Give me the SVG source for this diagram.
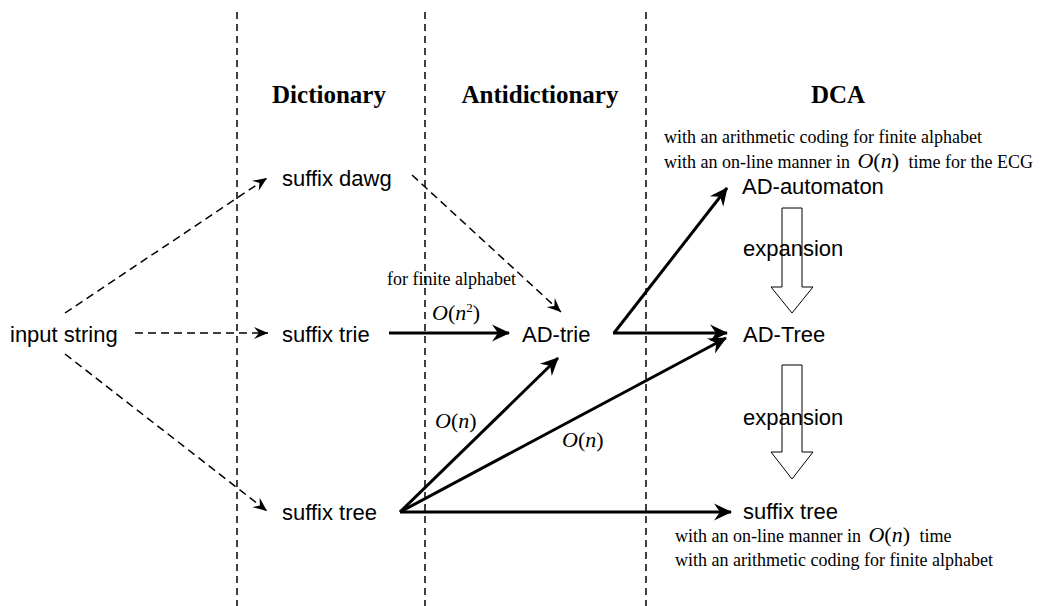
<svg xmlns="http://www.w3.org/2000/svg" width="1043" height="606" viewBox="0 0 1043 606">
<defs>
<style>
.sans{font-family:"Liberation Sans",Arial,sans-serif;font-size:22px;fill:#000}
.serif{font-family:"Liberation Serif","Times New Roman",serif;font-size:18px;fill:#000}
.head{font-family:"Liberation Serif","Times New Roman",serif;font-size:25px;font-weight:bold;fill:#000}
.big{font-size:22px}
.it{font-style:italic}
.sep{stroke:#000;stroke-width:1.5;stroke-dasharray:7,5;fill:none}
.dash{stroke:#000;stroke-width:1.5;stroke-dasharray:8,5;fill:none}
.solid{stroke:#000;stroke-width:3;fill:none}
.exp{stroke:#000;stroke-width:1;fill:none}
</style>
<marker id="ah" markerUnits="userSpaceOnUse" viewBox="-19 -9 21 18" refX="-1" refY="0" markerWidth="21" markerHeight="18" orient="auto">
<path d="M0,0 L-18,-8.5 L-12,0 L-18,8.5 Z" fill="#000"/>
</marker>
<marker id="dh" markerUnits="userSpaceOnUse" viewBox="-15 -7 16 14" refX="0" refY="0" markerWidth="16" markerHeight="14" orient="auto">
<path d="M0,0 L-14,-6 L-9,0 L-14,6 Z" fill="#000"/>
</marker>
</defs>
<rect width="1043" height="606" fill="#fff"/>
<g id="separators">
<line class="sep" x1="237" y1="12" x2="237" y2="606"/>
<line class="sep" x1="425" y1="12" x2="425" y2="606"/>
<line class="sep" x1="646" y1="12" x2="646" y2="606"/>
</g>
<g id="headers">
<text class="head" x="329" y="103" text-anchor="middle">Dictionary</text>
<text class="head" x="540" y="103" text-anchor="middle">Antidictionary</text>
<text class="head" x="838" y="103" text-anchor="middle">DCA</text>
</g>
<g id="connectors">
<line class="dash" x1="65" y1="313" x2="267" y2="178" marker-end="url(#dh)"/>
<line class="dash" x1="135" y1="333" x2="268" y2="333" marker-end="url(#dh)"/>
<line class="dash" x1="65" y1="354" x2="267" y2="511" marker-end="url(#dh)"/>
<line class="dash" x1="412" y1="175" x2="561" y2="312" marker-end="url(#dh)"/>
<line class="solid" x1="389" y1="333" x2="509" y2="333" marker-end="url(#ah)"/>
<line class="solid" x1="614" y1="333" x2="727" y2="188" marker-end="url(#ah)"/>
<line class="solid" x1="613" y1="333" x2="727" y2="333" marker-end="url(#ah)"/>
<line class="solid" x1="400" y1="512" x2="558" y2="358" marker-end="url(#ah)"/>
<line class="solid" x1="400" y1="512" x2="726" y2="338" marker-end="url(#ah)"/>
<line class="solid" x1="400" y1="512" x2="731" y2="512" marker-end="url(#ah)"/>
<text class="serif" x="387" y="285">for finite alphabet</text>
<text class="serif big" x="432" y="320"><tspan class="it">O</tspan>(<tspan class="it">n</tspan><tspan font-size="13" dy="-8">2</tspan><tspan dy="8">)</tspan></text>
<text class="serif big" x="435" y="428"><tspan class="it">O</tspan>(<tspan class="it">n</tspan>)</text>
<text class="serif big" x="562" y="447"><tspan class="it">O</tspan>(<tspan class="it">n</tspan>)</text>
</g>
<g id="expansion1">
<path class="exp" d="M782,208 H802 V287 H813 L792,313 L771,287 H782 Z"/>
<text class="sans" x="743" y="256">expansion</text>
</g>
<g id="expansion2">
<path class="exp" d="M782,365 H802 V452 H813 L792,479 L771,452 H782 Z"/>
<text class="sans" x="743" y="425">expansion</text>
</g>
<g id="input-string"><text class="sans" x="10" y="342">input string</text></g>
<g id="suffix-dawg"><text class="sans" x="282" y="186">suffix dawg</text></g>
<g id="suffix-trie"><text class="sans" x="282" y="342">suffix trie</text></g>
<g id="suffix-tree-dict"><text class="sans" x="282" y="520">suffix tree</text></g>
<g id="ad-trie"><text class="sans" x="522" y="342">AD-trie</text></g>
<g id="ad-automaton">
<text class="sans" x="742" y="194">AD-automaton</text>
<text class="serif" x="664" y="143">with an arithmetic coding for finite alphabet</text>
<text class="serif" x="664" y="168">with an on-line manner in <tspan class="big it" dx="3">O</tspan><tspan class="big">(</tspan><tspan class="big it">n</tspan><tspan class="big">)</tspan><tspan dx="5"> time for the ECG</tspan></text>
</g>
<g id="ad-tree"><text class="sans" x="743" y="342">AD-Tree</text></g>
<g id="suffix-tree-dca">
<text class="sans" x="743" y="519">suffix tree</text>
<text class="serif" x="675" y="542">with an on-line manner in <tspan class="big it" dx="3">O</tspan><tspan class="big">(</tspan><tspan class="big it">n</tspan><tspan class="big">)</tspan><tspan dx="5"> time</tspan></text>
<text class="serif" x="675" y="566">with an arithmetic coding for finite alphabet</text>
</g>
</svg>
